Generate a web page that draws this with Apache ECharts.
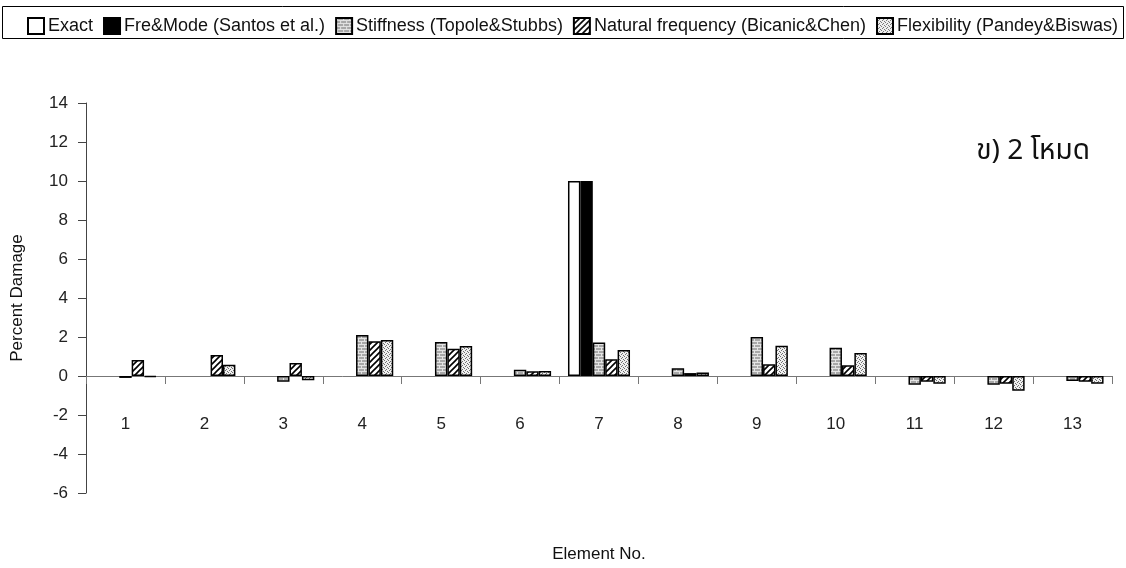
<!DOCTYPE html>
<html>
<head>
<meta charset="utf-8">
<script src="https://cdn.jsdelivr.net/npm/echarts@6/dist/echarts.min.js"></script>
<style>
  html, body { margin: 0; padding: 0; background: #fff; }
  #chart { width: 1126px; height: 568px; }
</style>
</head>
<body>
<div id="chart"></div>
<script>
// Element numbers along the beam
const elements = ['1', '2', '3', '4', '5', '6', '7', '8', '9', '10', '11', '12', '13'];

// Percent damage identified per element by each method (null = no damage found)
const exact       = [null, null, null, null, null, null, 10, null, null, null, null, null, null];
const freMode     = [null, null, null, null, null, null, 10, null, null, null, null, null, null];
const stiffness   = [-0.1, null, -0.3, 2.1, 1.75, 0.32, 1.72, 0.4, 2.0, 1.45, -0.45, -0.45, -0.25];
const natFreq     = [0.82, 1.08, 0.67, 1.78, 1.4, 0.24, 0.86, 0.15, 0.6, 0.55, -0.3, -0.4, -0.3];
const flexibility = [-0.05, 0.58, -0.22, 1.85, 1.54, 0.26, 1.33, 0.18, 1.55, 1.18, -0.4, -0.75, -0.4];

const seriesNames = [
  'Exact',
  'Fre&Mode (Santos et al.)',
  'Stiffness (Topole&Stubbs)',
  'Natural frequency (Bicanic&Chen)',
  'Flexibility (Pandey&Biswas)'
];

const yTicks = { min: -6, max: 14, step: 2 };

// Small tiles used as fill patterns for the bars
function makeTile(w, h, draw) {
  const c = document.createElement('canvas');
  c.width = w; c.height = h;
  const g = c.getContext('2d');
  draw(g, w, h);
  return c;
}

const brickTile = makeTile(6, 6, (g, w, h) => {
  g.fillStyle = '#a8a8a8';
  g.fillRect(0, 0, w, h);
  g.fillStyle = '#e4e4e4';
  g.fillRect(0, 2, w, 1);
  g.fillRect(0, 5, w, 1);
  g.fillRect(1, 0, 1, 2);
  g.fillRect(4, 3, 1, 2);
});

const hatchTile = makeTile(6, 6, (g, w, h) => {
  g.fillStyle = '#ffffff';
  g.fillRect(0, 0, w, h);
  g.strokeStyle = '#000000';
  g.lineWidth = 1.6;
  g.beginPath();
  for (let k = -1; k <= 2; k++) {
    g.moveTo(k * 6 - 1, h + 1);
    g.lineTo(k * 6 + w + 1, -1);
  }
  g.stroke();
});

const dotTile = makeTile(4, 4, (g, w, h) => {
  g.fillStyle = '#f0f0f0';
  g.fillRect(0, 0, w, h);
  g.fillStyle = '#707070';
  g.fillRect(0, 0, 1, 1);
  g.fillRect(2, 1, 1, 1);
  g.fillRect(1, 2, 1, 1);
  g.fillRect(3, 3, 1, 1);
});

const fills = [
  '#ffffff',
  '#000000',
  { image: brickTile, repeat: 'repeat' },
  { image: hatchTile, repeat: 'repeat' },
  { image: dotTile, repeat: 'repeat' }
];

const values = [exact, freMode, stiffness, natFreq, flexibility];

const chart = echarts.init(document.getElementById('chart'), null, { renderer: 'canvas' });

const font = 'Liberation Sans, Arial, sans-serif';

chart.setOption({
  animation: false,
  backgroundColor: '#ffffff',
  textStyle: { fontFamily: font },
  graphic: [
    {
      type: 'rect',
      shape: { x: 2.5, y: 6.5, width: 1121, height: 32 },
      style: { fill: 'none', stroke: '#000', lineWidth: 1 },
      z: 0
    },
    {
      type: 'text',
      right: 36,
      top: 139,
      style: {
        text: 'ข) 2 โหมด',
        fontSize: 28,
        fill: '#111',
        fontFamily: 'Noto Sans Thai, Tahoma, Noto Sans, DejaVu Sans, sans-serif'
      }
    }
  ],
  legend: {
    left: 22,
    top: 12,
    itemWidth: 16,
    itemHeight: 16,
    itemGap: 10,
    icon: 'rect',
    textStyle: { fontSize: 18, color: '#111', fontFamily: font, padding: [0, 0, 0, -1] },
    data: seriesNames
  },
  grid: { left: 86, right: 14, top: 103, bottom: 75, outerBoundsMode: 'none' },
  xAxis: {
    type: 'category',
    data: elements,
    name: 'Element No.',
    nameLocation: 'middle',
    nameGap: 53,
    nameTextStyle: { fontSize: 17, color: '#111' },
    axisLine: { onZero: true, lineStyle: { color: '#777', width: 1 } },
    axisTick: { show: true, alignWithLabel: false, length: 8, inside: false, lineStyle: { color: '#777' } },
    // labels sit just below the zero line, well above the plot's bottom edge
    axisLabel: { fontSize: 17, color: '#222', margin: -77 },
    splitLine: { show: false }
  },
  yAxis: {
    type: 'value',
    min: yTicks.min,
    max: yTicks.max,
    interval: yTicks.step,
    name: 'Percent Damage',
    nameLocation: 'middle',
    nameGap: 60,
    nameRotate: 90,
    nameTextStyle: { fontSize: 17, color: '#111' },
    axisLine: { show: true, onZero: false, lineStyle: { color: '#444', width: 1 } },
    axisTick: { show: true, length: 8, lineStyle: { color: '#444' } },
    axisLabel: { fontSize: 17, color: '#222', margin: 18 },
    splitLine: { show: false }
  },
  series: seriesNames.map((name, i) => ({
    name,
    type: 'bar',
    data: values[i],
    barGap: '0%',
    barCategoryGap: '21.4%',
    itemStyle: {
      color: fills[i],
      borderColor: '#000',
      borderWidth: 1.5
    }
  }))
});
</script>
</body>
</html>
